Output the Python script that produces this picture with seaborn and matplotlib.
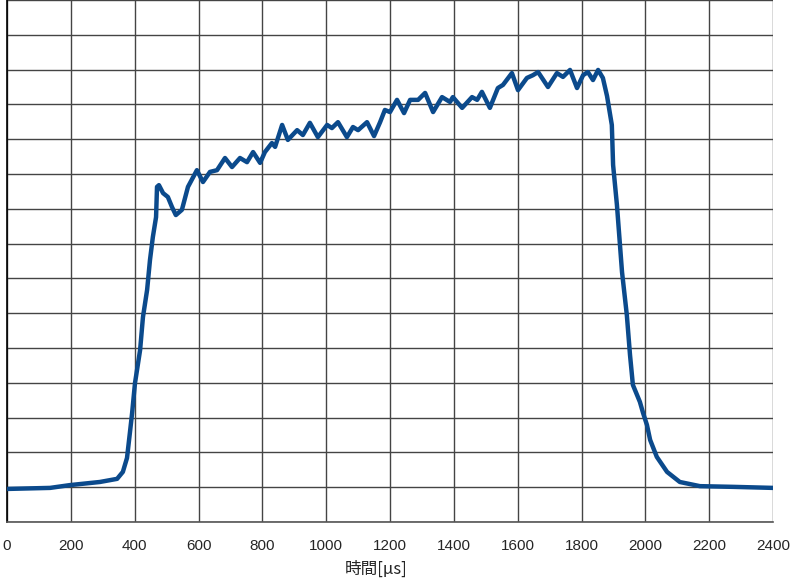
import matplotlib
matplotlib.use("Agg")
import matplotlib.pyplot as plt
import seaborn as sns
import pandas as pd

time_us = [0, 135, 197, 291, 345, 363, 376, 385, 392, 401, 417, 426, 439, 448, 457, 467, 470, 476,
           489, 504, 517, 529, 548, 567, 595, 614, 636, 658, 683, 705, 730, 752, 771, 793, 808, 830,
           840, 862, 880, 909, 927, 949, 974, 1003, 1018, 1037, 1065, 1084, 1100, 1128, 1150, 1169,
           1184, 1200, 1222, 1244, 1263, 1288, 1310, 1335, 1363, 1388, 1397, 1426, 1457, 1473, 1488,
           1513, 1538, 1554, 1582, 1601, 1629, 1648, 1664, 1695, 1723, 1742, 1764, 1786, 1805, 1820,
           1836, 1852, 1867, 1880, 1895, 1899, 1911, 1927, 1942, 1952, 1961, 1983, 1993, 2005, 2015,
           2036, 2068, 2108, 2171, 2275, 2400]
signal = [0.95, 0.98, 1.06, 1.15, 1.24, 1.44, 1.84, 2.56, 3.13, 3.99, 4.94, 5.89, 6.67, 7.53, 8.19,
          8.76, 9.63, 9.68, 9.45, 9.34, 9.05, 8.82, 8.97, 9.63, 10.11, 9.77, 10.06, 10.11, 10.46, 10.20,
          10.46, 10.34, 10.63, 10.32, 10.63, 10.89, 10.78, 11.41, 10.98, 11.26, 11.12, 11.47, 11.06,
          11.41, 11.32, 11.49, 11.06, 11.35, 11.26, 11.49, 11.09, 11.49, 11.84, 11.78, 12.13, 11.75,
          12.13, 12.13, 12.33, 11.78, 12.21, 12.07, 12.21, 11.90, 12.21, 12.13, 12.36, 11.90, 12.47,
          12.56, 12.90, 12.41, 12.76, 12.84, 12.93, 12.50, 12.90, 12.79, 12.99, 12.47, 12.84, 12.93,
          12.70, 12.99, 12.76, 12.24, 11.41, 10.26, 9.11, 7.18, 5.95, 4.80, 3.94, 3.45, 3.13, 2.79,
          2.36, 1.87, 1.44, 1.15, 1.03, 1.01, 0.98]
x_ticks = list(range(0, 2401, 200))
y_ticks = list(range(0, 16))
x_label = "時間[µs]"

sns.set_style("white")
plt.rcParams['font.family'] = ['Liberation Sans', 'DejaVu Sans']

fig = plt.figure(figsize=(7.9, 5.83), dpi=100)
ax = fig.add_axes([7 / 790, 61 / 583, 766 / 790, 522 / 583])

df = pd.DataFrame({"t": time_us, "v": signal})
sns.lineplot(data=df, x="t", y="v", ax=ax, color="#0b4a8c", linewidth=3.2, zorder=3)

ax.set_xlim(0, 2400)
ax.set_ylim(0, 15)
ax.set_xticks(x_ticks)
ax.set_yticks(y_ticks)
ax.set_yticklabels([])
ax.set_xticklabels([str(t) for t in x_ticks], fontsize=11)
ax.grid(True, color="#444444", linewidth=1.0)
ax.tick_params(axis="x", direction="out", length=6, width=1, color="#444444", pad=6)
ax.tick_params(axis="y", direction="out", length=5, width=1, color="#222222")
for s in ["top", "right"]:
    ax.spines[s].set_visible(False)
ax.spines["left"].set_color("black")
ax.spines["left"].set_linewidth(1.2)
ax.spines["bottom"].set_color("#555555")
ax.spines["bottom"].set_linewidth(1.2)
ax.set_ylabel("")
ax.set_xlabel(x_label, fontsize=12, family=['Noto Sans CJK JP', 'DejaVu Sans'])
ax.xaxis.set_label_coords(0.482, -0.074)

fig.savefig("out.png", dpi=100)
